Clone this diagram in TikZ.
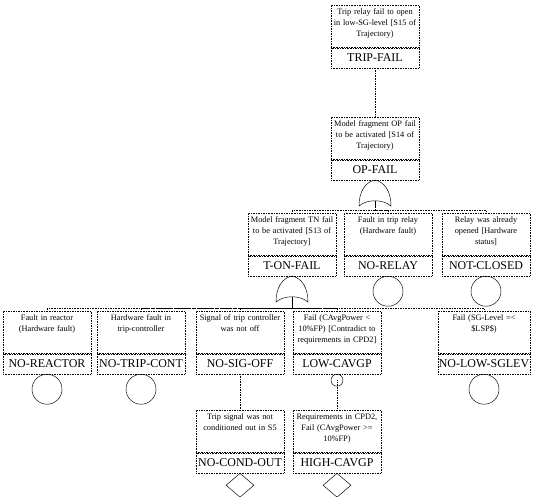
\documentclass[tikz,border=0pt]{standalone}
\usepackage{fontspec}
\setmainfont{Liberation Serif}
\usetikzlibrary{positioning,shapes.geometric}

\tikzset{
  desc/.style={draw,densely dotted,anchor=north,text width=2.62cm,inner xsep=0.4pt,inner ysep=1.5pt,
    align=center,text height=6pt,text depth=26.9pt,font=\fontsize{7.1}{9.6}\selectfont},
  lbl/.style={draw,densely dotted,minimum width={2.62cm+0.8pt},minimum height=0.6cm,inner sep=0pt,
    font=\fontsize{10.2}{12}\selectfont},
  conn/.style={densely dotted},
  basic/.style={circle,draw,minimum size=0.9cm,inner sep=0pt},
  undev/.style={diamond,draw,minimum width=0.84cm,minimum height=0.72cm,inner sep=0pt},
  orgate/.pic={
    \draw (0,0) .. controls (10,2) and (16,12) .. (16,26)
      .. controls (8,19) and (-8,19) .. (-16,26)
      .. controls (-16,12) and (-10,2) .. (0,0) -- cycle;
    \coordinate (-in) at (0,21);
  }
}

\begin{document}
\begin{tikzpicture}[x=0.03cm,y=-0.03cm]
		\useasboundingbox (0,0) rectangle (534,496);
		
		% top event
		\node(tf) at (375,5)[desc]{Trip relay fail to open\\in low-SG-level [S15 of\\Trajectory)};
		\node(tf-l)[lbl,below=0pt of tf]{TRIP-FAIL};
		
		\node(op) at (375,117)[desc]{Model fragment OP fail\\to be activated [S14 of\\Trajectory)};
		\node(op-l)[lbl,below=0pt of op]{OP-FAIL};
		\pic(g1) at (op-l.south) {orgate};
		
		% third row
		\node(tn) at (292,213)[desc]{Model fragment TN fail\\to be activated [S13 of\\Trajectory]};
		\node(tn-l)[lbl,below=0pt of tn]{T-ON-FAIL};
		\pic(g2) at (tn-l.south) {orgate};
		\node(rl) at (388,213)[desc]{Fault in trip relay\\(Hardware fault)};
		\node(rl-l)[lbl,below=0pt of rl]{NO-RELAY};
		\node(rl-c)[basic,below=0pt of rl-l]{};
		\node(nc) at (486,213)[desc]{Relay was already\\opened [Hardware\\status]};
		\node(nc-l)[lbl,below=0pt of nc]{NOT-CLOSED};
		\node(nc-c)[basic,below=0pt of nc-l]{};
		
		% fourth row
		\node(re) at (47,311)[desc]{Fault in reactor\\(Hardware fault)};
		\node(re-l)[lbl,below=0pt of re]{NO-REACTOR};
		\node(re-c)[basic,below=0pt of re-l]{};
		\node(tc) at (141,311)[desc]{Hardware fault in\\trip-controller};
		\node(tc-l)[lbl,below=0pt of tc]{NO-TRIP-CONT};
		\node(tc-c)[basic,below=0pt of tc-l]{};
		\node(so) at (240,311)[desc]{Signal of trip controller\\was not off};
		\node(so-l)[lbl,below=0pt of so]{NO-SIG-OFF};
		\node(lc) at (337,311)[desc]{Fail (CAvgPower <\\10\%FP) [Contradict to\\requirements in CPD2]};
		\node(lc-l)[lbl,below=0pt of lc]{LOW-CAVGP};
		\node(lc-c)[circle,draw,minimum size=0.36cm,inner sep=0pt,below=0pt of lc-l]{};
		\node(sg) at (484,311)[desc,text width=2.74cm]{Fail (SG-Level =<\\\$LSP\$)};
		\node(sg-l)[lbl,minimum width={2.74cm+0.8pt},below=0pt of sg]{NO-LOW-SGLEV};
		\node(sg-c)[basic,below=0pt of sg-l]{};
		
		% fifth row
		\node(co) at (240,410)[desc]{Trip signal was not\\conditioned out in S5};
		\node(co-l)[lbl,below=0pt of co]{NO-COND-OUT};
		\node(co-d)[undev,below=0pt of co-l]{};
		\node(hc) at (337,410)[desc]{Requirements in CPD2,\\Fail (CAvgPower >=\\10\%FP)};
		\node(hc-l)[lbl,below=0pt of hc]{HIGH-CAVGP};
		\node(hc-d)[undev,below=0pt of hc-l]{};
		
		\draw[conn] (tf-l) -- (op);
		\draw[conn] (tn.north) -- ++(0,-3) -| (g1-in);
		\draw[conn] (rl.north) -- ++(0,-3) -| (g1-in);
		\draw[conn] (nc.north) -- ++(0,-3) -| (g1-in);
		\draw[conn] (re.north) -- ++(0,-3) -| (g2-in);
		\draw[conn] (tc.north) -- ++(0,-3) -| (g2-in);
		\draw[conn] (so.north) -- ++(0,-3) -| (g2-in);
		\draw[conn] (lc.north) -- ++(0,-3) -| (g2-in);
		\draw[conn] (sg.north) -- ++(0,-3) -| (g2-in);
		\draw[conn] (so-l) -- (co);
		\draw[conn] (lc-c.center) -- (hc);
		
	\end{tikzpicture}
\end{document}
